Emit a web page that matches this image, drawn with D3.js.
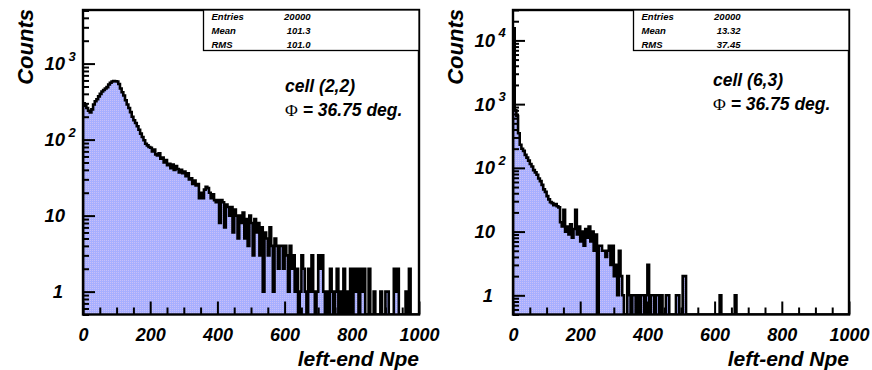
<!DOCTYPE html>
<html>
<head>
<meta charset="utf-8">
<script src="https://cdn.jsdelivr.net/npm/d3@7"></script>
<style>
  body { margin: 0; background: #fff; }
  svg text { font-family: "Liberation Sans", Arial, Helvetica, sans-serif; font-weight: bold; font-style: italic; fill: #000; }
</style>
</head>
<body>
<svg id="chart" width="872" height="370"></svg>
<script>
// histogram: 200 bins of width 5 from 0 to 1000
var binWidth = 5;
var xMajorTicks = [0, 200, 400, 600, 800, 1000];

var leftCounts = [
  300, 280, 260, 240, 228, 250, 290, 320, 340, 370,
  400, 430, 450, 470, 490, 530, 560, 580, 590, 585,
  580, 540, 470, 420, 380, 330, 290, 260, 230, 200,
  180, 165, 150, 135, 120, 108, 98, 88, 84, 80,
  78, 70, 74, 64, 62, 66, 56, 58, 50, 54,
  46, 48, 42, 47, 40, 45, 41, 37, 40, 36,
  38, 33, 36, 30, 31, 26, 29, 25, 26, 17,
  20, 17, 22, 24, 23, 20, 17, 19, 16, 15,
  16, 8, 16, 15, 7, 14, 13, 10, 13, 6,
  12, 10, 5, 10, 8, 11, 5, 9, 4, 10,
  8, 3, 9, 6, 8, 3, 7, 1, 6, 5,
  3, 7, 4, 1, 5, 4, 2, 4, 4, 2,
  4, 3, 1, 4, 2, 3, 1, 2, 0, 1,
  3, 2, 1, 0, 2, 1, 3, 1, 0, 1,
  3, 2, 3, 1, 0, 1, 0, 2, 1, 0,
  1, 2, 0, 1, 0, 2, 0, 1, 0, 2,
  0, 2, 1, 2, 0, 2, 1, 2, 0, 0,
  2, 0, 0, 1, 0, 0, 0, 1, 0, 0,
  1, 1, 0, 0, 0, 2, 1, 2, 0, 0,
  0, 0, 1, 0, 2, 0, 0, 0, 0, 0
];

var rightCounts = [
  15500, 800, 650, 350, 230, 200, 185, 160, 145, 130,
  115, 105, 92, 85, 78, 68, 62, 54, 46, 42,
  36, 32, 29, 28, 26, 27, 25, 24, 14, 12,
  22, 10, 12, 9, 13, 8, 11, 22, 9, 12,
  7, 10, 6, 11, 8, 12, 7, 10, 5, 9,
  0, 6, 6, 5, 5, 4, 5, 6, 3, 6,
  2, 3, 1, 5, 2, 1, 0, 0, 2, 1,
  0, 1, 1, 0, 1, 0, 1, 1, 0, 1,
  3, 0, 1, 1, 0, 1, 1, 0, 1, 0,
  0, 1, 1, 0, 0, 0, 0, 1, 1, 0,
  0, 2, 2, 0, 0, 0, 0, 0, 0, 0,
  0, 0, 0, 0, 0, 0, 0, 0, 0, 0,
  0, 0, 0, 1, 0, 0, 0, 0, 0, 0,
  0, 0, 1, 0, 0, 0, 0, 0, 0, 0,
  0, 0, 0, 0, 0, 0, 0, 0, 0, 0,
  0, 0, 0, 0, 0, 0, 0, 0, 0, 0,
  0, 0, 0, 0, 0, 0, 0, 0, 0, 0,
  0, 0, 0, 0, 0, 0, 0, 0, 0, 0,
  0, 0, 0, 0, 0, 0, 0, 0, 0, 0,
  0, 0, 0, 0, 0, 0, 0, 0, 0, 0
];

var statNames = ["Entries", "Mean", "RMS"];
var leftStats = ["20000", "101.3", "101.0"];
var rightStats = ["20000", "13.32", "37.45"];
var leftCell = "cell (2,2)";
var rightCell = "cell (6,3)";
var phiLabel = " = 36.75 deg.";

var svg = d3.select("#chart");

// dotted lavender fill like the ROOT fill style
var defs = svg.append("defs");
var pat = defs.append("pattern")
  .attr("id", "dots")
  .attr("width", 2).attr("height", 2)
  .attr("patternUnits", "userSpaceOnUse");
pat.append("rect").attr("width", 2).attr("height", 2).attr("fill", "#a7afff");
pat.append("rect").attr("width", 1).attr("height", 1).attr("fill", "#c8c0f8");

function drawPanel(p) {
  var top = 10, bottom = 314.5, width = 336;
  var x = d3.scaleLinear().domain([0, 1000]).range([p.left, p.left + width]);
  var y = d3.scaleLog().domain([0.5, p.yMax]).range([bottom, top]);

  var g = svg.append("g");

  defs.append("clipPath").attr("id", "clip" + p.id)
    .append("rect")
    .attr("x", p.left).attr("y", top)
    .attr("width", width).attr("height", bottom - top);

  // step outline points
  var pts = [[x(0), bottom]];
  p.counts.forEach(function (c, i) {
    var yy = c > 0 ? Math.max(y(c), top) : bottom;
    pts.push([x(i * binWidth), yy]);
    pts.push([x((i + 1) * binWidth), yy]);
  });
  pts.push([x(1000), bottom]);

  var line = d3.line();

  g.append("path")
    .attr("d", line(pts) + "Z")
    .attr("fill", "url(#dots)")
    .attr("clip-path", "url(#clip" + p.id + ")");

  g.append("path")
    .attr("d", line(pts))
    .attr("fill", "none")
    .attr("stroke", "#000")
    .attr("stroke-width", 2.6)
    .attr("stroke-linejoin", "miter")
    .attr("clip-path", "url(#clip" + p.id + ")");

  // x ticks
  var minorX = d3.range(0, 1001, 50).filter(function (d) { return d % 200 != 0; });
  var xMinor = g.append("g")
    .attr("transform", "translate(0," + bottom + ")")
    .call(d3.axisBottom(x).tickValues(minorX).tickSize(-7).tickFormat(""));
  var xMajor = g.append("g")
    .attr("transform", "translate(0," + bottom + ")")
    .call(d3.axisBottom(x).tickValues(xMajorTicks).tickSize(-13).tickPadding(13.5).tickFormat(d3.format("d")));

  // y ticks
  var decades = [1, 10, 100, 1000, 10000].filter(function (d) { return d <= p.yMax; });
  var minorY = [];
  [0.1, 1, 10, 100, 1000, 10000].forEach(function (dec) {
    for (var k = 2; k <= 9; k++) {
      var v = dec * k;
      if (v >= 0.5 && v <= p.yMax) minorY.push(v);
    }
  });
  var yMinor = g.append("g")
    .attr("transform", "translate(" + p.left + ",0)")
    .call(d3.axisLeft(y).tickValues(minorY).tickSize(-6).tickFormat(""));
  var yMajor = g.append("g")
    .attr("transform", "translate(" + p.left + ",0)")
    .call(d3.axisLeft(y).tickValues(decades).tickSize(-12).tickFormat(""));

  [xMinor, xMajor, yMinor, yMajor].forEach(function (a) {
    a.select(".domain").remove();
    a.selectAll("line").attr("stroke", "#000").attr("stroke-width", 2);
  });
  xMajor.selectAll("text")
    .attr("font-size", 18)
    .style("font-family", "'Liberation Sans', Arial, sans-serif");

  // y labels: 1, 10, 10^2, ...
  decades.forEach(function (d) {
    var e = Math.round(Math.log10(d));
    var base = e == 0 ? "1" : "10";
    var yy = y(d);
    g.append("text")
      .attr("x", p.left - (e == 0 ? 20 : 18))
      .attr("y", yy + 6.5)
      .attr("text-anchor", "end")
      .attr("font-size", 18.5)
      .text(base);
    if (e >= 2) {
      g.append("text")
        .attr("x", p.left - 14.5)
        .attr("y", yy - 3)
        .attr("font-size", 13)
        .text(e);
    }
  });

  // frame
  g.append("rect")
    .attr("x", p.left).attr("y", top)
    .attr("width", width).attr("height", bottom - top)
    .attr("fill", "none")
    .attr("stroke", "#000")
    .attr("stroke-width", 2.4);

  // stats box
  var bx = p.left + 120.5, bw = p.left + width - bx;
  g.append("rect")
    .attr("x", bx).attr("y", top)
    .attr("width", bw).attr("height", 40.5)
    .attr("fill", "#fff")
    .attr("stroke", "#000")
    .attr("stroke-width", 1.3);
  statNames.forEach(function (n, i) {
    var ty = top + 9.5 + i * 14;
    g.append("text")
      .attr("x", bx + 8).attr("y", ty)
      .attr("font-size", 9.5)
      .text(n);
    g.append("text")
      .attr("x", bx + 107).attr("y", ty)
      .attr("text-anchor", "end")
      .attr("font-size", 9.5)
      .text(p.stats[i]);
  });

  // cell label
  g.append("text")
    .attr("x", p.left + p.cellDx).attr("y", p.cellY)
    .attr("font-size", 17.5)
    .text(p.cell);
  var phi = g.append("text")
    .attr("x", p.left + p.cellDx).attr("y", p.cellY + 24)
    .attr("font-size", 17.5);
  phi.append("tspan")
    .style("font-family", "'Liberation Serif', 'DejaVu Serif', serif")
    .style("font-weight", "normal")
    .style("font-style", "normal")
    .text("\u03a6");
  phi.append("tspan").text(phiLabel);

  // axis titles
  g.append("text")
    .attr("transform", "translate(" + (p.left - 50) + "," + (top - 1) + ") rotate(-90)")
    .attr("text-anchor", "end")
    .attr("font-size", 22)
    .text("Counts");
  g.append("text")
    .attr("x", p.left + width).attr("y", 366)
    .attr("text-anchor", "end")
    .attr("font-size", 21)
    .text("left-end Npe");
}

drawPanel({ id: "L", left: 83, counts: leftCounts, yMax: 5070, stats: leftStats, cell: leftCell, cellDx: 202, cellY: 92 });
drawPanel({ id: "R", left: 513, counts: rightCounts, yMax: 30000, stats: rightStats, cell: rightCell, cellDx: 200, cellY: 86 });
</script>
</body>
</html>
